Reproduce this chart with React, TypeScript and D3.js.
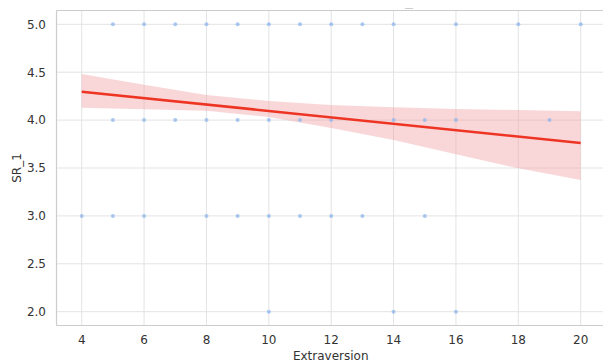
import { useEffect, useRef } from 'react';
import * as d3 from 'd3';

// scatter points, grouped by SR_1 value
const xsAt5 = [5, 6, 7, 8, 9, 10, 11, 12, 13, 14, 16, 18, 20];
const xsAt4 = [5, 6, 7, 8, 9, 10, 11, 12, 14, 15, 16, 19];
const xsAt3 = [4, 5, 6, 8, 9, 10, 11, 12, 13, 15];
const xsAt2 = [10, 14, 16];

// regression fit and confidence band
const fitX = [4, 20];
const fitY = [4.296, 3.761];
const bandX = [4, 6, 8, 10, 12, 14, 16, 18, 20];
const bandUpper = [4.481, 4.368, 4.262, 4.199, 4.158, 4.134, 4.116, 4.105, 4.092];
const bandLower = [4.129, 4.113, 4.098, 4.032, 3.918, 3.792, 3.643, 3.497, 3.375];

const xTicks = [4, 6, 8, 10, 12, 14, 16, 18, 20];
const yTicks = [2.0, 2.5, 3.0, 3.5, 4.0, 4.5, 5.0];

const W = 603;
const H = 364;

export default function App() {
  const svgRef = useRef<SVGSVGElement>(null);

  useEffect(() => {
    const svg = d3.select(svgRef.current);
    svg.selectAll('*').remove();

    const left = 56.5, top = 10.5, bottom = 325.5, right = 603;

    const x = d3.scaleLinear().domain([4, 20]).range([81.7, 580.7]);
    const y = d3.scaleLinear().domain([2, 5]).range([311.7, 24.3]);

    const font = 'DejaVu Sans, sans-serif';

    // grid
    const grid = svg.append('g');
    grid.selectAll('.gx')
      .data(xTicks)
      .enter()
      .append('line')
      .attr('x1', d => x(d)).attr('x2', d => x(d))
      .attr('y1', top).attr('y2', bottom)
      .attr('stroke', '#e3e3e3').attr('stroke-width', 1);
    grid.selectAll('.gy')
      .data(yTicks)
      .enter()
      .append('line')
      .attr('x1', left).attr('x2', right)
      .attr('y1', d => y(d)).attr('y2', d => y(d))
      .attr('stroke', '#e3e3e3').attr('stroke-width', 1);

    // confidence band
    const bandData = bandX.map((v, i) => ({ x: v, lo: bandLower[i], hi: bandUpper[i] }));
    const area = d3.area<{ x: number; lo: number; hi: number }>()
      .x(d => x(d.x))
      .y0(d => y(d.lo))
      .y1(d => y(d.hi));
    svg.append('path')
      .datum(bandData)
      .attr('d', area)
      .attr('fill', '#f0a0a3')
      .attr('fill-opacity', 0.42);

    // points
    const pts = [
      ...xsAt5.map(v => ({ x: v, y: 5 })),
      ...xsAt4.map(v => ({ x: v, y: 4 })),
      ...xsAt3.map(v => ({ x: v, y: 3 })),
      ...xsAt2.map(v => ({ x: v, y: 2 })),
    ];
    svg.append('g')
      .selectAll('circle')
      .data(pts)
      .enter()
      .append('circle')
      .attr('cx', d => x(d.x))
      .attr('cy', d => y(d.y))
      .attr('r', 2)
      .attr('fill', '#8fb6ec')
      .attr('fill-opacity', 0.75);

    // fit line
    const line = d3.line<number>()
      .x((d, i) => x(fitX[i]))
      .y(d => y(d));
    svg.append('path')
      .datum(fitY)
      .attr('d', line)
      .attr('fill', 'none')
      .attr('stroke', '#ee3524')
      .attr('stroke-width', 2.6);

    // spines
    svg.append('line')
      .attr('x1', left).attr('x2', left).attr('y1', top).attr('y2', bottom)
      .attr('stroke', '#cccccc').attr('stroke-width', 1.2);
    svg.append('line')
      .attr('x1', left).attr('x2', right).attr('y1', bottom).attr('y2', bottom)
      .attr('stroke', '#cccccc').attr('stroke-width', 1.2);
    svg.append('line')
      .attr('x1', left).attr('x2', right).attr('y1', top).attr('y2', top)
      .attr('stroke', '#cccccc').attr('stroke-width', 1.2);

    // tick labels
    svg.append('g')
      .selectAll('text')
      .data(xTicks)
      .enter()
      .append('text')
      .attr('x', d => x(d))
      .attr('y', 343.5)
      .attr('text-anchor', 'middle')
      .style('font-family', font)
      .style('font-size', '12px')
      .attr('fill', '#333')
      .text(d => d3.format('d')(d));
    svg.append('g')
      .selectAll('text')
      .data(yTicks)
      .enter()
      .append('text')
      .attr('x', 46)
      .attr('y', d => y(d) + 4.3)
      .attr('text-anchor', 'end')
      .style('font-family', font)
      .style('font-size', '12px')
      .attr('fill', '#333')
      .text(d => d3.format('.1f')(d));

    // axis labels
    svg.append('text')
      .attr('x', (left + right) / 2 + 1)
      .attr('y', 359.5)
      .attr('text-anchor', 'middle')
      .style('font-family', font)
      .style('font-size', '12px')
      .attr('fill', '#333')
      .text('Extraversion');
    svg.append('text')
      .attr('transform', `translate(21,${(top + bottom) / 2}) rotate(-90)`)
      .attr('text-anchor', 'middle')
      .style('font-family', font)
      .style('font-size', '12px')
      .attr('fill', '#333')
      .text('SR_1');

    // tiny title
    svg.append('text')
      .attr('x', 409)
      .attr('y', 10.5)
      .attr('text-anchor', 'middle')
      .style('font-family', font)
      .style('font-size', '9px')
      .attr('fill', '#aaa')
      .text('—');
  }, []);

  return (
    <svg
      ref={svgRef}
      width={W}
      height={H}
      style={{ position: 'absolute', left: 0, top: 0, background: '#fff' }}
    />
  );
}
